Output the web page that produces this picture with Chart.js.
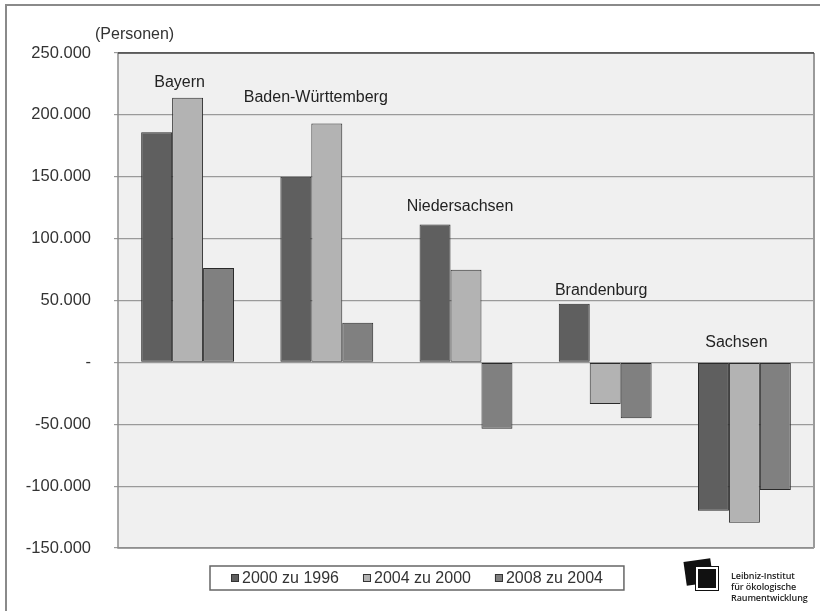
<!DOCTYPE html>
<html>
<head>
<meta charset="utf-8">
<script src="https://cdn.jsdelivr.net/npm/chart.js@4"></script>
<style>
  body { margin: 0; background: #fff; }
  .wrap { position: relative; width: 820px; height: 611px; overflow: hidden; }
  .frame { position: absolute; left: 5px; top: 4px; right: 0; bottom: -10px;
           border-left: 2px solid #8a8a8a; border-top: 2px solid #8a8a8a; }
  canvas { position: absolute; left: 0; top: 0; }
  .logo { position: absolute; left: 684px; top: 559px; width: 140px; height: 50px; }
  .logo .a { position: absolute; left: 1px; top: 1px; width: 27px; height: 24px; background: #111; transform: rotate(-8deg); }
  .logo .b { position: absolute; left: 12px; top: 8px; width: 18px; height: 19px; background: #111; border: 2px solid #fff; outline: 1px solid #111; }
  .logo .t { position: absolute; left: 47px; top: 11px; font: 600 9px/11px "Open Sans", sans-serif; color: #222; letter-spacing: -0.1px; }
</style>
</head>
<body>
<div class="wrap">
  <div class="frame"></div>
  <canvas id="chart" width="820" height="611"></canvas>
  <div class="logo">
    <div class="a"></div><div class="b"></div>
    <div class="t">Leibniz-Institut<br>für ökologische<br>Raumentwicklung</div>
  </div>
</div>
<script>
// data
const states = ['Bayern', 'Baden-Württemberg', 'Niedersachsen', 'Brandenburg', 'Sachsen'];
const seriesNames = ['2000 zu 1996', '2004 zu 2000', '2008 zu 2004'];
const values2000 = [186000, 150000, 111500, 47400, -119800];
const values2004 = [213800, 193000, 74900, -33600, -129500];
const values2008 = [76200, 32000, -53600, -45200, -103100];
const yMin = -150000;
const yMax = 250000;
const yStep = 50000;
const unitLabel = '(Personen)';

const colors = ['#5f5f5f', '#b3b3b3', '#808080'];
const font = 'Liberation Sans, Arial, sans-serif';
// how far each state name sits above its tallest bar (px)
const labelLift = [15, 26, 18, 13, 20];
const labelShift = [-8, -11, -6, -4, -8];

function fmt(v){
  if (v === 0) return '-';
  return String(v).replace(/\B(?=(\d{3})+(?!\d))/g, '.');
}

// plot background + border
const plotFrame = {
  id: 'plotFrame',
  beforeDraw(chart){
    const a = chart.chartArea, ctx = chart.ctx;
    ctx.save();
    ctx.fillStyle = '#f0f0f0';
    ctx.fillRect(a.left, a.top, a.right - a.left, a.bottom - a.top);
    ctx.restore();
  },
  afterDatasetsDraw(chart){
    const a = chart.chartArea, ctx = chart.ctx;
    ctx.save();
    ctx.lineWidth = 1.5;
    ctx.strokeStyle = '#8c8c8c';
    ctx.beginPath();
    ctx.moveTo(a.left, a.top); ctx.lineTo(a.left, a.bottom); ctx.lineTo(a.right, a.bottom);
    ctx.stroke();
    ctx.strokeStyle = '#9a9a9a';
    ctx.lineWidth = 2;
    ctx.beginPath();
    ctx.moveTo(a.right, a.top); ctx.lineTo(a.right, a.bottom);
    ctx.stroke();
    ctx.strokeStyle = '#444';
    ctx.lineWidth = 1.5;
    ctx.beginPath();
    ctx.moveTo(a.left, a.top); ctx.lineTo(a.right, a.top);
    ctx.stroke();
    ctx.restore();
  }
};

// state names above groups, unit label, legend box
const annotations = {
  id: 'annotations',
  afterDraw(chart){
    const ctx = chart.ctx, a = chart.chartArea;
    const xs = chart.scales.x, ys = chart.scales.y;
    ctx.save();
    ctx.font = '16px ' + font;
    ctx.fillStyle = '#222';
    ctx.textAlign = 'center';
    ctx.textBaseline = 'middle';
    states.forEach(function(name, i){
      const top = Math.max(0, values2000[i], values2004[i], values2008[i]);
      ctx.fillText(name, xs.getPixelForValue(i) + labelShift[i], ys.getPixelForValue(top) - labelLift[i]);
    });
    ctx.textAlign = 'left';
    ctx.fillStyle = '#333';
    ctx.fillText(unitLabel, a.left - 23, a.top - 18);

    // legend
    const widths = seriesNames.map(function(n){ return ctx.measureText(n).width });
    const pad = 21, box = 8, gap = 3, between = 24;
    let total = pad * 2 + between * (seriesNames.length - 1);
    widths.forEach(function(w){ total += box + gap + w });
    const left = Math.round(chart.width / 2 + 7 - total / 2);
    const top = 566, h = 24;
    ctx.strokeStyle = '#666';
    ctx.lineWidth = 1.5;
    ctx.strokeRect(left, top, total, h);
    let x = left + pad;
    const cy = top + h / 2;
    seriesNames.forEach(function(n, i){
      ctx.fillStyle = colors[i];
      ctx.fillRect(x, cy - box / 2, box, box);
      ctx.strokeStyle = '#333';
      ctx.lineWidth = 1;
      ctx.strokeRect(x + 0.5, cy - box / 2 + 0.5, box - 1, box - 1);
      ctx.fillStyle = '#333';
      ctx.fillText(n, x + box + gap, cy + 1);
      x += box + gap + widths[i] + between;
    });
    ctx.restore();
  }
};

const seriesValues = [values2000, values2004, values2008];

new Chart(document.getElementById('chart'), {
  type: 'bar',
  data: {
    labels: states,
    datasets: seriesNames.map(function(name, i){
      return {
        label: name,
        data: seriesValues[i],
        backgroundColor: colors[i],
        borderColor: '#2a2a2a',
        borderWidth: 1,
        borderSkipped: false,
        barPercentage: 1,
        categoryPercentage: 0.667
      }
    })
  },
  options: {
    responsive: false,
    animation: false,
    devicePixelRatio: 1,
    layout: { padding: { top: 53, bottom: 63, left: 0, right: 6 } },
    plugins: {
      legend: { display: false },
      tooltip: { enabled: false }
    },
    scales: {
      x: { display: false },
      y: {
        min: yMin,
        max: yMax,
        afterFit: function(s){ s.width = 118 },
        ticks: {
          stepSize: yStep,
          padding: 23,
          color: '#333',
          font: { family: font, size: 16.5 },
          callback: function(v){ return fmt(v) }
        },
        grid: { color: '#9a9a9a', lineWidth: 1.2, tickLength: 4 },
        border: { display: false }
      }
    }
  },
  plugins: [plotFrame, annotations]
});
</script>
</body>
</html>
